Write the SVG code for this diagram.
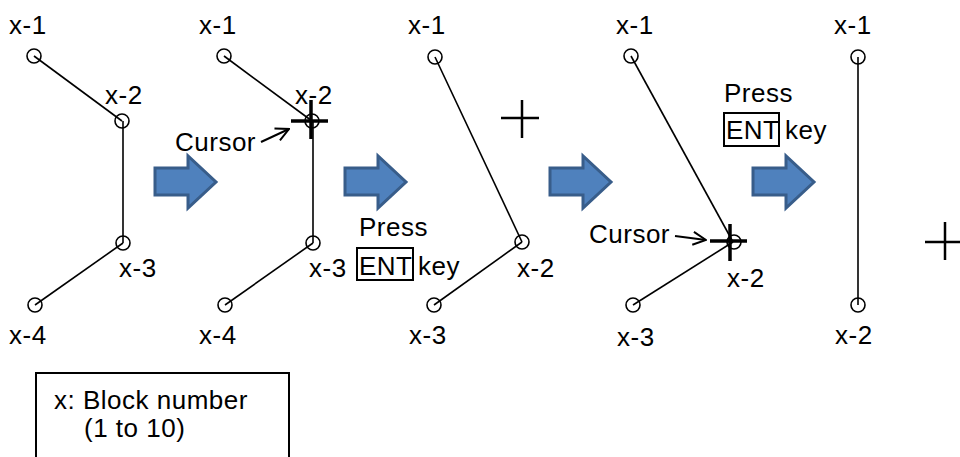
<svg xmlns="http://www.w3.org/2000/svg" width="960" height="457" viewBox="0 0 960 457">
<defs>
<style>
text{font-family:"Liberation Sans",Arial,sans-serif;font-size:26px;fill:#000;letter-spacing:0.5px}
.pt{fill:none;stroke:#000;stroke-width:1.6}
.ln{stroke:#000;stroke-width:1.6;fill:none}
.ca{stroke:#000;stroke-width:2;fill:none}
.cr{stroke:#000;stroke-width:2.5}
.crb{stroke:#000;stroke-width:3.5}
.blk{fill:#4F81BD;stroke:#385D8A;stroke-width:3}
.box{fill:none;stroke:#000;stroke-width:2}
</style>
<marker id="open" viewBox="0 0 16 16" refX="15" refY="8" markerWidth="16" markerHeight="16" markerUnits="userSpaceOnUse" orient="auto">
<path d="M2,1.5 L15,8 L2,14.5" fill="none" stroke="#000" stroke-width="2"/>
</marker>
<polygon id="barrow" points="0,-14 33,-14 33,-26 61,0 33,26 33,13 0,13"/>
</defs>
<rect width="960" height="457" fill="#fff"/>

<g id="connectors">
<line class="ln" x1="34" y1="56" x2="122" y2="121"/>
<line class="ln" x1="123" y1="121" x2="123" y2="243"/>
<line class="ln" x1="35" y1="305" x2="123" y2="243"/>
<line class="ln" x1="224" y1="56" x2="312" y2="121"/>
<line class="ln" x1="313" y1="121" x2="313" y2="243"/>
<line class="ln" x1="225" y1="305" x2="313" y2="243"/>
<line class="ln" x1="435" y1="57" x2="522" y2="242"/>
<line class="ln" x1="434" y1="305" x2="522" y2="242"/>
<line class="ln" x1="631" y1="56" x2="733" y2="242"/>
<line class="ln" x1="633" y1="305" x2="733" y2="242"/>
<line class="ln" x1="858" y1="57" x2="858" y2="305"/>
<line class="ca" x1="261" y1="142" x2="289" y2="129" marker-end="url(#open)"/>
<line class="ca" x1="675" y1="236" x2="706" y2="240" marker-end="url(#open)"/>
</g>

<g id="panel1">
<circle class="pt" cx="34" cy="56" r="7"/>
<circle class="pt" cx="122" cy="121" r="7"/>
<circle class="pt" cx="123" cy="243" r="7"/>
<circle class="pt" cx="35" cy="305" r="7"/>
<text x="9" y="34">x-1</text>
<text x="105" y="104">x-2</text>
<text x="119" y="277">x-3</text>
<text x="9" y="344">x-4</text>
</g>

<g id="arrow1"><use href="#barrow" class="blk" x="155" y="182"/></g>

<g id="panel2">
<circle class="pt" cx="224" cy="56" r="7"/>
<circle class="pt" cx="312" cy="121" r="7"/>
<circle class="pt" cx="313" cy="243" r="7"/>
<circle class="pt" cx="225" cy="305" r="7"/>
<text x="199" y="34">x-1</text>
<text x="295" y="104">x-2</text>
<text x="309" y="277">x-3</text>
<text x="199" y="344">x-4</text>
<line class="crb" x1="291" y1="121" x2="328" y2="121"/>
<line class="crb" x1="311" y1="100" x2="311" y2="139"/>
<text x="175" y="151">Cursor</text>
</g>

<g id="arrow2"><use href="#barrow" class="blk" x="345" y="182"/></g>

<g id="press1">
<text x="359" y="236">Press</text>
<rect class="box" x="357" y="248" width="56" height="32"/>
<text x="359" y="275">ENT</text>
<text x="418" y="275">key</text>
</g>

<g id="panel3">
<circle class="pt" cx="435" cy="57" r="7"/>
<circle class="pt" cx="522" cy="242" r="7"/>
<circle class="pt" cx="434" cy="305" r="7"/>
<text x="408" y="34">x-1</text>
<text x="517" y="277">x-2</text>
<text x="409" y="344">x-3</text>
<line class="cr" x1="501" y1="118" x2="539" y2="118"/>
<line class="cr" x1="522" y1="100" x2="522" y2="138"/>
</g>

<g id="arrow3"><use href="#barrow" class="blk" x="550" y="182"/></g>

<g id="panel4">
<circle class="pt" cx="631" cy="56" r="7"/>
<circle class="pt" cx="734" cy="242" r="7"/>
<circle class="pt" cx="633" cy="305" r="7"/>
<text x="616" y="34">x-1</text>
<text x="727" y="287">x-2</text>
<text x="617" y="346">x-3</text>
<line class="crb" x1="710" y1="241" x2="747" y2="241"/>
<line class="crb" x1="730" y1="224" x2="730" y2="261"/>
<text x="589" y="243">Cursor</text>
</g>

<g id="press2">
<text x="724" y="102">Press</text>
<rect class="box" x="724" y="113" width="55" height="33"/>
<text x="726" y="139">ENT</text>
<text x="785" y="139">key</text>
</g>

<g id="arrow4"><use href="#barrow" class="blk" x="753" y="182"/></g>

<g id="panel5">
<circle class="pt" cx="858" cy="57" r="7"/>
<circle class="pt" cx="858" cy="305" r="7"/>
<text x="834" y="34">x-1</text>
<text x="835" y="344">x-2</text>
<line class="cr" x1="925" y1="242" x2="961" y2="242"/>
<line class="cr" x1="945" y1="222" x2="945" y2="260"/>
</g>

<g id="legend">
<rect class="box" x="36" y="373" width="253" height="90" stroke-width="1.5"/>
<text x="54" y="409">x: Block number</text>
<text x="84" y="437">(1 to 10)</text>
</g>
</svg>
